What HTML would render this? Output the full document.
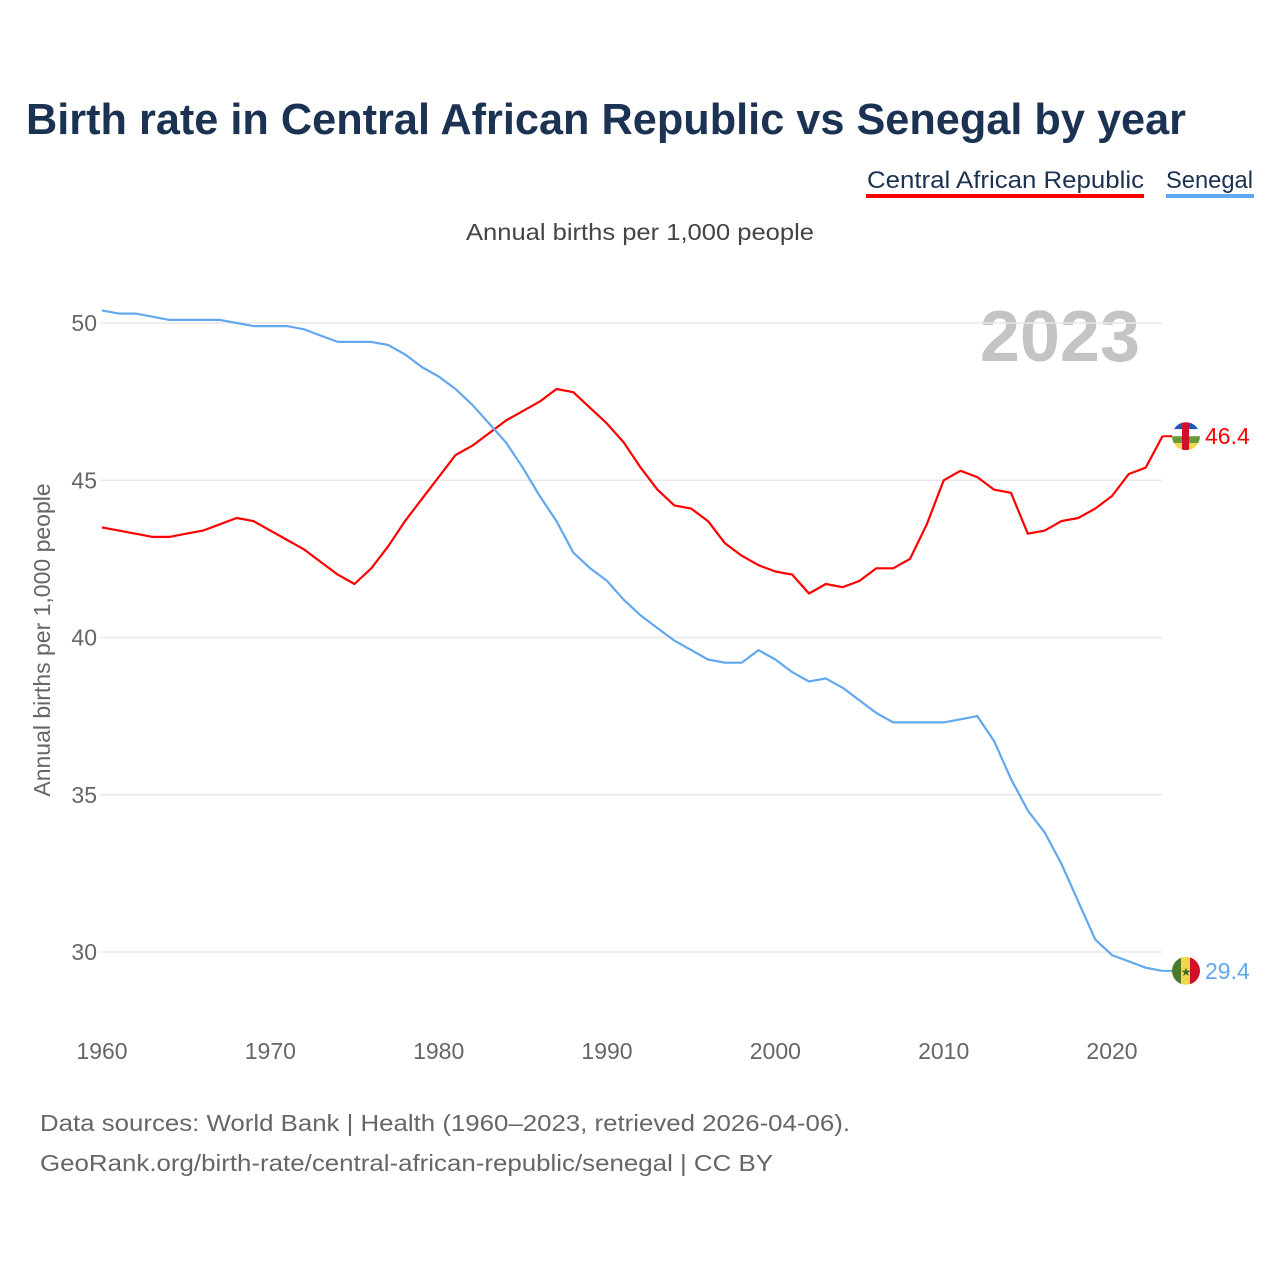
<!DOCTYPE html>
<html><head><meta charset="utf-8"><style>
body{margin:0;background:#fff;font-family:"Liberation Sans",sans-serif}
#wrap{position:relative;width:1280px;height:1280px;overflow:hidden}
</style></head><body>
<div id="wrap">
<svg id="chart" width="1280" height="1280">
<text x="26" y="134" font-size="44" font-weight="bold" fill="#1b3252" textLength="1160" lengthAdjust="spacingAndGlyphs">Birth rate in Central African Republic vs Senegal by year</text>
<g><text x="867" y="188" font-size="24" fill="#1b3252" textLength="277" lengthAdjust="spacingAndGlyphs">Central African Republic</text><rect x="866" y="194" width="278" height="4" fill="#ff0000"/></g>
<g><text x="1166" y="188" font-size="24" fill="#1b3252" textLength="87" lengthAdjust="spacingAndGlyphs">Senegal</text><rect x="1166" y="194" width="88" height="4" fill="#62a8ee"/></g>
<text x="466" y="240" font-size="23" fill="#444" textLength="348" lengthAdjust="spacingAndGlyphs">Annual births per 1,000 people</text>
<text x="1140" y="361" text-anchor="end" font-size="72" font-weight="bold" fill="#c4c4c4">2023</text>
<text transform="translate(50,640) rotate(-90)" text-anchor="middle" font-size="23" fill="#666">Annual births per 1,000 people</text>
<g id="grid"></g><g id="lines"></g><g id="ends"></g>
<text x="40" y="1131" font-size="23" fill="#666" textLength="810" lengthAdjust="spacingAndGlyphs">Data sources: World Bank | Health (1960–2023, retrieved 2026-04-06).</text>
<text x="40" y="1171" font-size="23" fill="#666" textLength="733" lengthAdjust="spacingAndGlyphs">GeoRank.org/birth-rate/central-african-republic/senegal | CC BY</text>
</svg></div>
<script>
const years=[];for(let y=1960;y<=2023;y++)years.push(y);
const carValues=[43.5,43.4,43.3,43.2,43.2,43.3,43.4,43.6,43.8,43.7,43.4,43.1,42.8,42.4,42.0,41.7,42.2,42.9,43.7,44.4,45.1,45.8,46.1,46.5,46.9,47.2,47.5,47.9,47.8,47.3,46.8,46.2,45.4,44.7,44.2,44.1,43.7,43.0,42.6,42.3,42.1,42.0,41.4,41.7,41.6,41.8,42.2,42.2,42.5,43.6,45.0,45.3,45.1,44.7,44.6,43.3,43.4,43.7,43.8,44.1,44.5,45.2,45.4,46.4];
const senValues=[50.4,50.3,50.3,50.2,50.1,50.1,50.1,50.1,50.0,49.9,49.9,49.9,49.8,49.6,49.4,49.4,49.4,49.3,49.0,48.6,48.3,47.9,47.4,46.8,46.2,45.4,44.5,43.7,42.7,42.2,41.8,41.2,40.7,40.3,39.9,39.6,39.3,39.2,39.2,39.6,39.3,38.9,38.6,38.7,38.4,38.0,37.6,37.3,37.3,37.3,37.3,37.4,37.5,36.7,35.5,34.5,33.8,32.8,31.6,30.4,29.9,29.7,29.5,29.4];
const yTicks=[30,35,40,45,50];
const xTicks=[1960,1970,1980,1990,2000,2010,2020];
const NS="http://www.w3.org/2000/svg";
const X=y=>102+(y-1960)*(1010/60);
const Y=v=>323+(50-v)*31.45;
function mk(tag,attrs,parent){const e=document.createElementNS(NS,tag);for(const k in attrs)e.setAttribute(k,attrs[k]);parent.appendChild(e);return e;}
const grid=document.getElementById('grid');
yTicks.forEach(t=>{
 const l=mk('line',{x1:100,x2:1162,y1:Y(t),y2:Y(t),stroke:'#e8e8e8','stroke-width':1.5},grid);
 
 
 const tx=mk('text',{x:97,y:Y(t)+8,'text-anchor':'end','font-size':23,fill:'#666'},grid);tx.textContent=t;
 
 
});
xTicks.forEach(t=>{
 const tx=mk('text',{x:X(t),y:1059,'text-anchor':'middle','font-size':23,fill:'#666'},grid);tx.textContent=t;
 
 
});
const lines=document.getElementById('lines');
function series(vals,color,name){
 const d=vals.map((v,i)=>(i?'L':'M')+X(years[i]).toFixed(1)+','+Y(v).toFixed(1)).join(' ');
 const p=mk('path',{d:d,fill:'none',stroke:color,'stroke-width':2.2,'stroke-linejoin':'round'},lines);
 
 
 const last=vals[vals.length-1];
 mk('line',{x1:X(2023),x2:1172,y1:Y(last),y2:Y(last),stroke:color,'stroke-width':2},lines);
}
series(carValues,'#ff0000','series-line-car');
series(senValues,'#62a8ee','series-line-senegal');
const ends=document.getElementById('ends');
const defs=mk('defs',{},ends);
function flag(id,cy,stripes,name){
 const cp=mk('clipPath',{id:id},defs);mk('circle',{cx:1186,cy:cy,r:14},cp);
 const g=mk('g',{'clip-path':'url(#'+id+')'},ends);
 
 
 stripes(g,cy);
}
const cl=carValues[carValues.length-1], sl=senValues[senValues.length-1];
flag('fc',Y(cl),(g,cy)=>{const c=['#1f5bb5','#ffffff','#6a9a3a','#f7d54a'];c.forEach((col,i)=>mk('rect',{x:1172,y:cy-14+i*7,width:28,height:7,fill:col},g));mk('rect',{x:1182,y:cy-14,width:7,height:28,fill:'#d3102c'},g);},'flag-car');
flag('fs',Y(sl),(g,cy)=>{mk('rect',{x:1172,y:cy-14,width:10,height:28,fill:'#4a7a2c'},g);mk('rect',{x:1181,y:cy-14,width:10,height:28,fill:'#f7d54a'},g);mk('rect',{x:1190,y:cy-14,width:10,height:28,fill:'#d3102c'},g);const s=mk('text',{x:1186,y:cy+5,'text-anchor':'middle','font-size':12,fill:'#3a6a2a'},g);s.textContent='★';},'flag-senegal');
const t1=mk('text',{x:1205,y:Y(cl)+8,'font-size':23,fill:'#ff0000'},ends);t1.textContent=cl.toFixed(1);


const t2=mk('text',{x:1205,y:Y(sl)+8,'font-size':23,fill:'#62a8ee'},ends);t2.textContent=sl.toFixed(1);


</script>
</body></html>
